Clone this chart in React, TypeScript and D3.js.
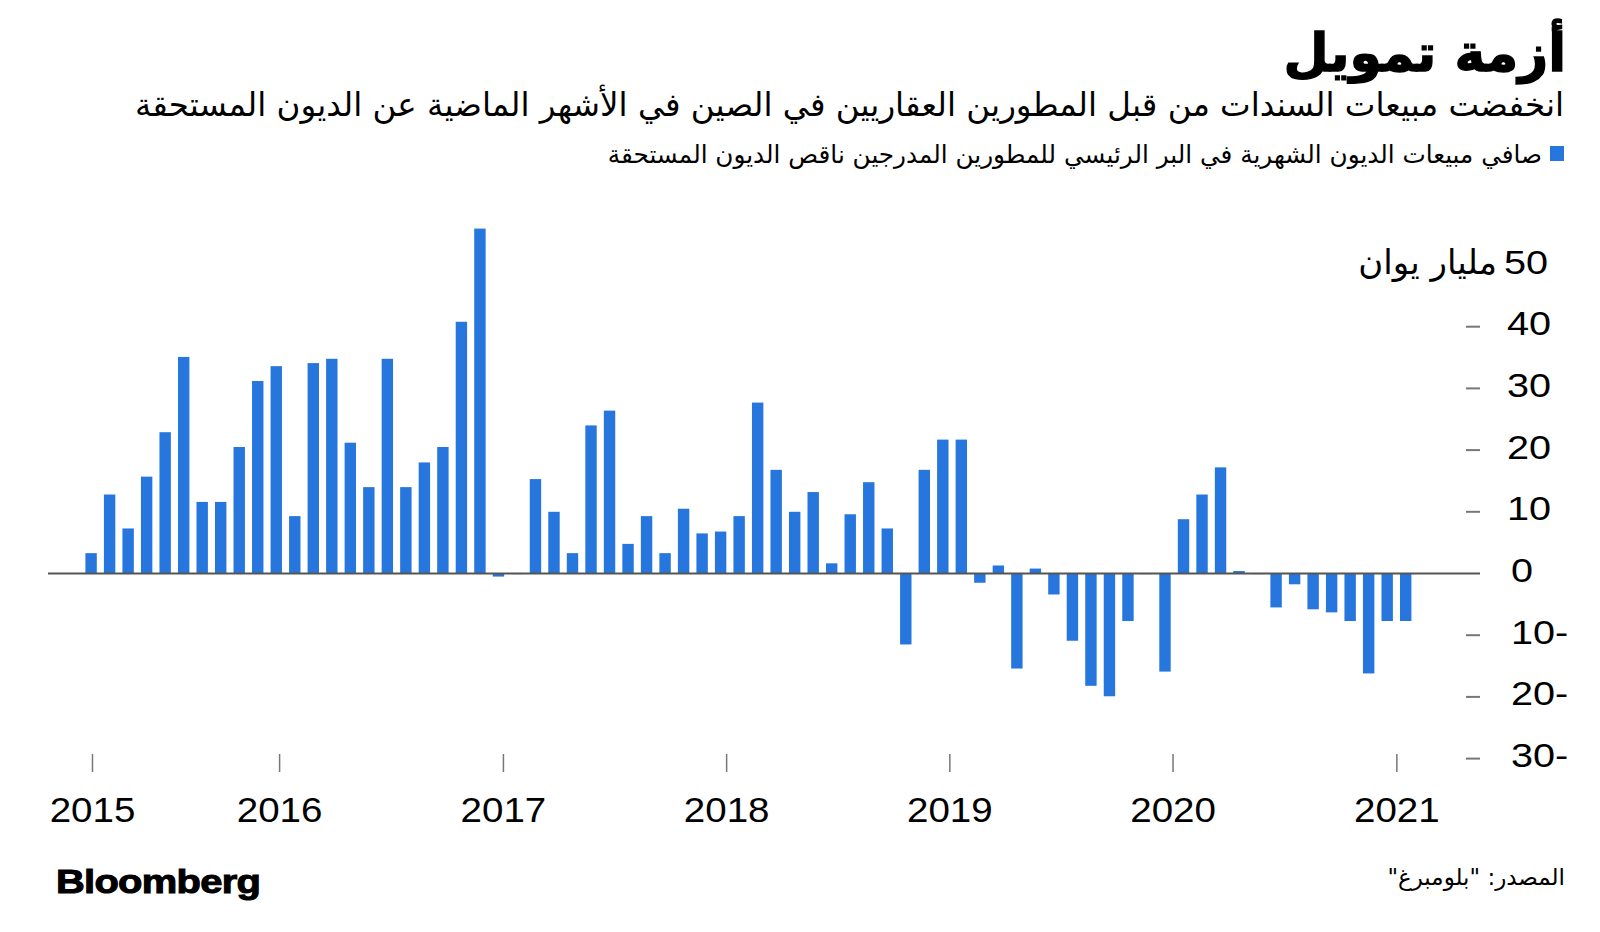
import React from 'react';
import * as d3 from 'd3';

// ---------- data ----------
const months: string[] = [
  '2015-02', '2015-03', '2015-04', '2015-05', '2015-06', '2015-07', '2015-08', '2015-09', '2015-10', '2015-11', '2015-12',
  '2016-01', '2016-02', '2016-03', '2016-04', '2016-05', '2016-06', '2016-07', '2016-08', '2016-09', '2016-10', '2016-11', '2016-12',
  '2017-01', '2017-02', '2017-03', '2017-04', '2017-05', '2017-06', '2017-07', '2017-08', '2017-09', '2017-10', '2017-11', '2017-12',
  '2018-01', '2018-02', '2018-03', '2018-04', '2018-05', '2018-06', '2018-07', '2018-08', '2018-09', '2018-10', '2018-11', '2018-12',
  '2019-01', '2019-02', '2019-03', '2019-04', '2019-05', '2019-06', '2019-07', '2019-08', '2019-09', '2019-10', '2019-11', '2019-12',
  '2020-01', '2020-02', '2020-03', '2020-04', '2020-05', '2020-06', '2020-07', '2020-08', '2020-09', '2020-10', '2020-11', '2020-12',
  '2021-01',
];

// net monthly debt sales minus maturing debt (billion yuan)
const netSales: number[] = [
  3.3, 12.8, 7.3, 15.7, 22.9, 35.1, 11.6, 11.6, 20.5, 31.2, 33.6,
  9.3, 34.1, 34.8, 21.2, 14.0, 34.8, 14.0, 18.0, 20.5, 40.8, 55.9, -0.5,
  -0.1, 15.3, 10.0, 3.3, 24.0, 26.4, 4.8, 9.3, 3.3, 10.5, 6.5, 6.8,
  9.3, 27.7, 16.8, 10.0, 13.2, 1.65, 9.6, 14.8, 7.3, -11.5, 16.8, 21.7,
  21.7, -1.5, 1.3, -15.4, 0.8, -3.4, -10.9, -18.2, -19.9, -7.7, -0.1, -15.9,
  8.8, 12.8, 17.2, 0.4, -0.1, -5.5, -1.75, -5.8, -6.3, -7.7, -16.2, -7.7,
  -7.7,
];

const yTicks: number[] = [-30, -20, -10, 0, 10, 20, 30, 40, 50];
const yearTickDates: string[] = ['2015-03-01', '2016-01-01', '2017-01-01', '2018-01-01', '2019-01-01', '2020-01-01', '2021-01-01'];
const yearLabels: string[] = ['2015', '2016', '2017', '2018', '2019', '2020', '2021'];

const title = 'أزمة تمويل';
const subtitle = 'انخفضت مبيعات السندات من قبل المطورين العقاريين في الصين في الأشهر الماضية عن الديون المستحقة';
const legendLabel = 'صافي مبيعات الديون الشهرية في البر الرئيسي للمطورين المدرجين ناقص الديون المستحقة';
const unitLabel = 'مليار يوان';
const sourceLabel = 'المصدر: "بلومبرغ"';
const brand = 'Bloomberg';

// ---------- styles ----------
const BLUE = '#2676dd';
const AR_FONT = '"DejaVu Sans", "Noto Sans", sans-serif';
const LAT_FONT = '"Liberation Sans", Arial, Helvetica, sans-serif';
const YEAR_STRETCH = 1.1;
const BRAND_STRETCH = 1.21;
const YLAB_STRETCH = 1.22;

export default function App() {
  const W = 1600;
  const H = 932;

  const x = d3.scaleBand<string>()
    .domain(months)
    .range([85.4, 1411.4])
    .paddingInner(0.384)
    .paddingOuter(0);

  const xTime = d3.scaleTime()
    .domain([new Date(2015, 0, 1), new Date(2021, 5, 1)])
    .range([56.4, 1489.2]);

  const y = d3.scaleLinear().domain([-30, 50]).range([758.6, 265]);
  const y0 = y(0);

  const dashX1 = 1466;
  const dashX2 = 1480;
  const labelLeft = 1507;

  return (
    <svg
      width={W}
      height={H}
      viewBox={`0 0 ${W} ${H}`}
      style={{ position: 'absolute', left: 0, top: 0, display: 'block', background: '#fff' }}
    >
      <rect x={0} y={0} width={W} height={H} fill="#fff" />

      {/* title */}
      <text x={1566} y={71} direction="rtl" textAnchor="start" fontFamily={AR_FONT} fontWeight={700} fontSize={52} fill="#000" stroke="#000" strokeWidth={1.4}>
        {title}
      </text>
      <text x={1564} y={116} direction="rtl" textAnchor="start" fontFamily={AR_FONT} fontWeight={400} fontSize={32.5} fill="#000">
        {subtitle}
      </text>

      {/* legend */}
      <rect x={1550} y={146} width={14} height={15} fill={BLUE} />
      <text x={1542} y={163} direction="rtl" textAnchor="start" fontFamily={AR_FONT} fontSize={24.7} fill="#000">
        {legendLabel}
      </text>

      {/* bars */}
      <g>
        {months.map((m, i) => {
          const v = netSales[i];
          const yv = y(v);
          return (
            <rect
              key={m}
              x={x(m)}
              y={Math.min(yv, y0)}
              width={x.bandwidth()}
              height={Math.abs(yv - y0)}
              fill={BLUE}
            />
          );
        })}
      </g>

      {/* zero line */}
      <line x1={48} x2={1480} y1={y0} y2={y0} stroke="#555" strokeWidth={2} />

      {/* y axis dashes and labels */}
      {yTicks.map((t) => {
        const ty = y(t);
        const showDash = t !== 0 && t !== 50;
        const neg = t < 0;
        const lx = t <= 0 ? labelLeft + 4 : labelLeft;
        return (
          <g key={t}>
            {showDash && <line x1={dashX1} x2={dashX2} y1={ty} y2={ty} stroke="#777" strokeWidth={2} />}
            {t !== 50 && (
              <g transform={`translate(${lx},${ty + 8.5}) scale(${YLAB_STRETCH},1)`}>
                <text
                  x={0}
                  y={0}
                  direction={neg ? 'rtl' : 'ltr'}
                  textAnchor={neg ? 'end' : 'start'}
                  fontFamily={LAT_FONT}
                  fontSize={32.5}
                  fill="#000"
                >
                  {String(t)}
                </text>
              </g>
            )}
            {t === 50 && (
              <g>
                <g transform={`translate(1548,${ty + 8.5}) scale(${YLAB_STRETCH},1)`}>
                  <text x={0} y={0} textAnchor="end" fontFamily={LAT_FONT} fontSize={32.5} fill="#000">
                    {String(t)}
                  </text>
                </g>
                <text x={1497} y={ty + 8.5} direction="rtl" textAnchor="start" fontFamily={AR_FONT} fontSize={34} fill="#000">
                  {unitLabel}
                </text>
              </g>
            )}
          </g>
        );
      })}

      {/* x axis ticks and year labels */}
      {yearTickDates.map((d, i) => {
        const tx = xTime(new Date(d + 'T00:00:00'));
        return (
          <g key={d}>
            <line x1={tx} x2={tx} y1={754} y2={772} stroke="#777" strokeWidth={1.5} />
            <g transform={`translate(${tx},822) scale(${YEAR_STRETCH},1)`}>
              <text x={0} y={0} textAnchor="middle" fontFamily={LAT_FONT} fontSize={35} fill="#000">
                {yearLabels[i]}
              </text>
            </g>
          </g>
        );
      })}

      {/* footer */}
      <g transform={`translate(56,893) scale(${BRAND_STRETCH},1)`}>
        <text x={0} y={0} fontFamily={LAT_FONT} fontWeight={700} fontSize={33} fill="#000" stroke="#000" strokeWidth={1} letterSpacing={-0.6}>
          {brand}
        </text>
      </g>
      <text x={1565} y={885} direction="rtl" textAnchor="start" fontFamily={AR_FONT} fontSize={23} fill="#000">
        {sourceLabel}
      </text>
    </svg>
  );
}
